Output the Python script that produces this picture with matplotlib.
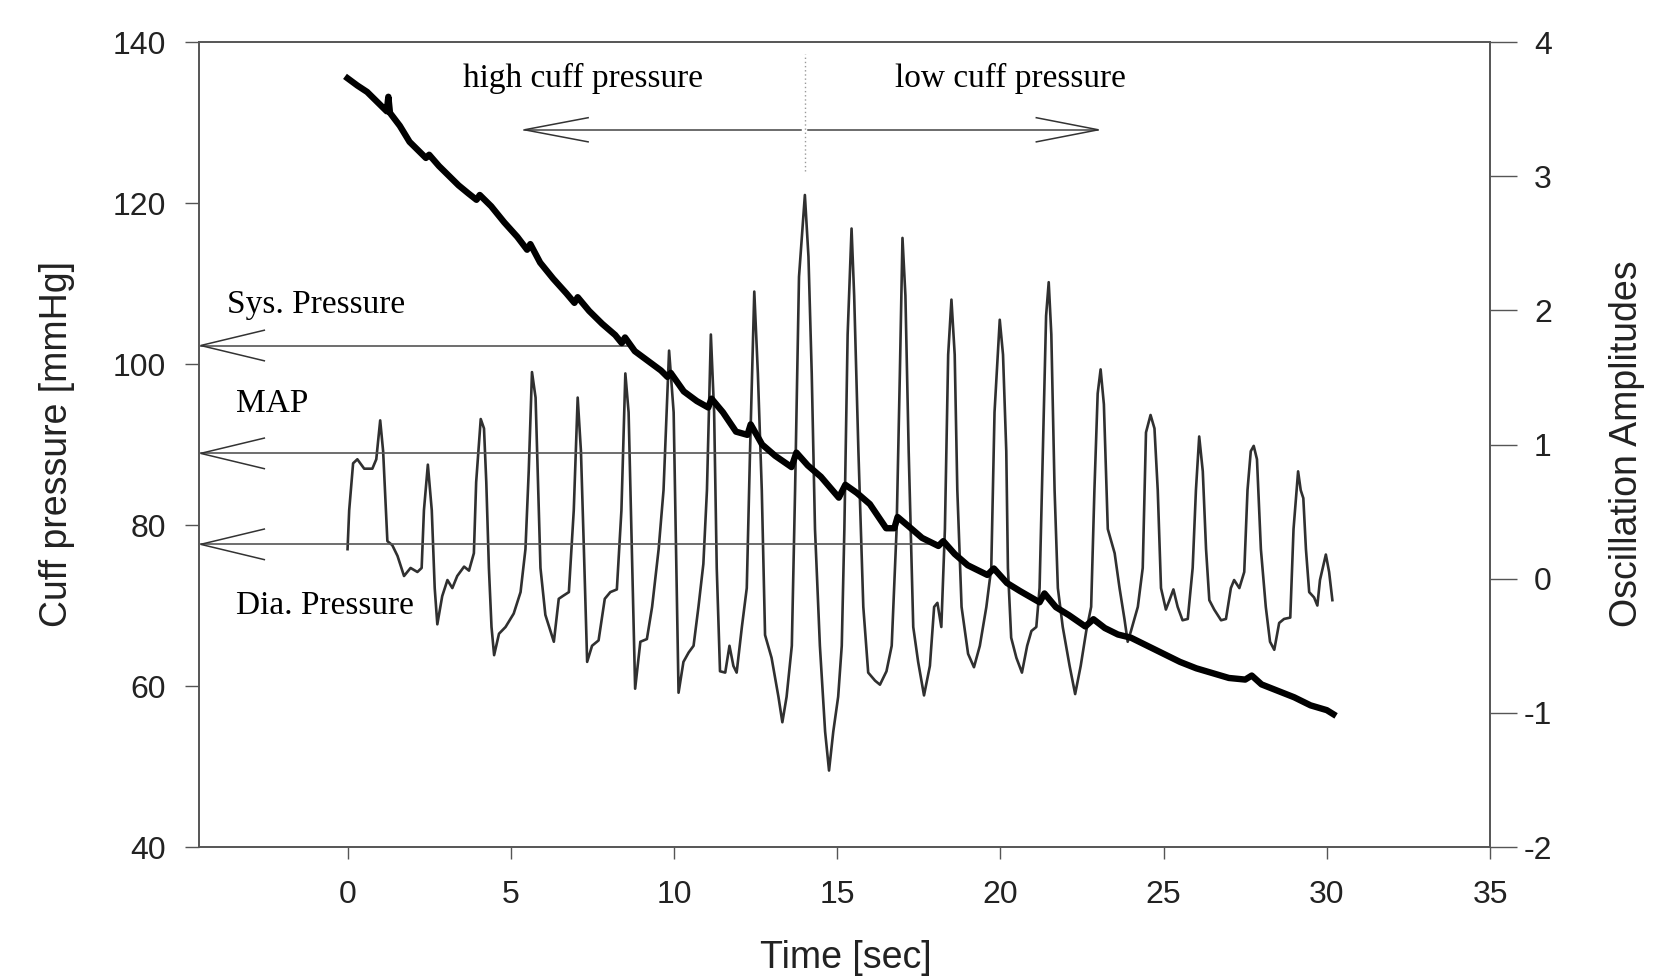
"""Oscillometric cuff deflation: cuff pressure and oscillation amplitudes."""

import matplotlib
matplotlib.use("Agg")
import matplotlib.pyplot as plt

plt.rcParams["axes.unicode_minus"] = False

# cuff pressure [mmHg] (thick line, left axis)
press_t = [0.0, 0.3, 0.6, 0.9, 1.05, 1.2, 1.25, 1.3, 1.6, 1.9, 2.2, 2.4, 2.5, 2.8,
           3.1, 3.4, 3.7, 3.95, 4.05, 4.4, 4.8, 5.2, 5.5, 5.6, 5.9, 6.3, 6.7, 6.95,
           7.05, 7.4, 7.8, 8.2, 8.4, 8.5, 8.8, 9.2, 9.6, 9.8, 9.9, 10.3, 10.7, 11.05,
           11.15, 11.5, 11.9, 12.25, 12.35, 12.7, 13.1, 13.6, 13.75, 14.1, 14.5,
           15.05, 15.25, 15.6, 16.0, 16.5, 16.75, 16.85, 17.2, 17.6, 18.1, 18.25,
           18.6, 19.0, 19.6, 19.8, 20.2, 20.6, 21.2, 21.35, 21.7, 22.1, 22.6, 22.85,
           23.2, 23.6, 24.0, 24.5, 25.0, 25.5, 26.0, 26.5, 27.0, 27.5, 27.7, 28.0,
           28.5, 29.0, 29.5, 30.0, 30.2]
press_mmhg = [135.5, 134.6, 133.8, 132.6, 132.0, 131.4, 133.2, 131.2, 129.6, 127.6,
              126.4, 125.6, 126.0, 124.6, 123.4, 122.2, 121.2, 120.4, 121.0, 119.6,
              117.6, 115.8, 114.2, 114.9, 112.6, 110.6, 108.8, 107.6, 108.3, 106.6,
              105.0, 103.6, 102.6, 103.3, 101.6, 100.4, 99.2, 98.4, 98.9, 96.6, 95.4,
              94.6, 95.7, 94.0, 91.6, 91.2, 92.5, 90.0, 88.6, 87.2, 89.0, 87.4, 86.0,
              83.4, 85.0, 84.0, 82.6, 79.6, 79.6, 81.0, 79.8, 78.4, 77.4, 78.0, 76.4,
              75.0, 73.8, 74.6, 72.8, 71.8, 70.4, 71.5, 69.8, 68.8, 67.4, 68.3, 67.2,
              66.4, 66.0, 65.0, 64.0, 63.0, 62.2, 61.6, 61.0, 60.8, 61.3, 60.2, 59.4,
              58.6, 57.6, 57.0, 56.5]

# oscillation signal (thin line, right axis)
osc_t = [0.00, 0.05, 0.17, 0.30, 0.51, 0.76, 0.88, 1.00, 1.09, 1.22, 1.37, 1.53, 1.73,
         1.93, 2.14, 2.27, 2.34, 2.46, 2.58, 2.67, 2.75, 2.90, 3.06, 3.21, 3.36, 3.57,
         3.72, 3.87, 3.94, 4.08, 4.18, 4.25, 4.33, 4.41, 4.49, 4.64, 4.84, 5.09, 5.30,
         5.45, 5.55, 5.65, 5.76, 5.84, 5.91, 6.06, 6.32, 6.47, 6.59, 6.78, 6.93, 7.05,
         7.15, 7.24, 7.34, 7.49, 7.69, 7.88, 8.05, 8.25, 8.39, 8.51, 8.61, 8.71, 8.81,
         8.97, 9.17, 9.33, 9.53, 9.68, 9.85, 9.99, 10.14, 10.29, 10.45, 10.60, 10.75,
         10.90, 11.01, 11.13, 11.23, 11.31, 11.41, 11.57, 11.70, 11.82, 11.92, 12.08,
         12.23, 12.33, 12.46, 12.57, 12.69, 12.79, 12.99, 13.20, 13.32, 13.45, 13.61,
         13.71, 13.83, 14.01, 14.12, 14.22, 14.32, 14.47, 14.63, 14.75, 14.88, 15.03,
         15.14, 15.22, 15.32, 15.44, 15.52, 15.65, 15.80, 15.95, 16.16, 16.31, 16.51,
         16.67, 16.82, 16.92, 17.00, 17.09, 17.19, 17.33, 17.48, 17.66, 17.84, 17.97,
         18.07, 18.19, 18.30, 18.40, 18.50, 18.60, 18.68, 18.81, 19.01, 19.19, 19.37,
         19.57, 19.72, 19.82, 19.98, 20.08, 20.18, 20.23, 20.33, 20.49, 20.66, 20.82,
         20.95, 21.10, 21.20, 21.30, 21.40, 21.48, 21.56, 21.66, 21.76, 21.91, 22.12,
         22.29, 22.46, 22.63, 22.78, 22.88, 22.98, 23.07, 23.17, 23.29, 23.50, 23.65,
         23.80, 23.90, 24.00, 24.21, 24.36, 24.46, 24.60, 24.72, 24.82, 24.92, 25.07,
         25.18, 25.30, 25.43, 25.58, 25.74, 25.89, 25.99, 26.09, 26.20, 26.30, 26.40,
         26.55, 26.76, 26.91, 27.06, 27.16, 27.32, 27.47, 27.57, 27.67, 27.76, 27.86,
         27.98, 28.13, 28.26, 28.39, 28.54, 28.69, 28.88, 28.98, 29.12, 29.20, 29.28,
         29.36, 29.46, 29.61, 29.71, 29.79, 29.97, 30.07, 30.17]
osc_amp = [0.22, 0.51, 0.86, 0.89, 0.82, 0.82, 0.89, 1.18, 0.95, 0.28, 0.25, 0.17, 0.02,
           0.08, 0.05, 0.08, 0.51, 0.85, 0.51, -0.07, -0.34, -0.13, -0.01, -0.07, 0.02,
           0.09, 0.06, 0.19, 0.72, 1.19, 1.12, 0.72, 0.08, -0.36, -0.57, -0.41, -0.36,
           -0.26, -0.10, 0.22, 0.80, 1.54, 1.35, 0.66, 0.08, -0.27, -0.47, -0.15, -0.13,
           -0.10, 0.51, 1.35, 0.95, 0.22, -0.62, -0.50, -0.46, -0.15, -0.10, -0.08, 0.51,
           1.53, 1.24, 0.22, -0.82, -0.47, -0.45, -0.21, 0.22, 0.66, 1.70, 1.24, -0.85,
           -0.62, -0.55, -0.50, -0.21, 0.11, 0.66, 1.82, 1.24, 0.08, -0.69, -0.70, -0.50,
           -0.65, -0.70, -0.36, -0.07, 0.95, 2.14, 1.53, 0.66, -0.42, -0.59, -0.88, -1.07,
           -0.88, -0.50, 0.66, 2.25, 2.86, 2.40, 1.53, 0.37, -0.50, -1.14, -1.43, -1.14,
           -0.88, -0.50, 0.37, 1.82, 2.61, 2.11, 0.95, -0.21, -0.70, -0.76, -0.79, -0.69,
           -0.50, 0.37, 1.53, 2.54, 2.11, 0.95, -0.36, -0.62, -0.87, -0.65, -0.21, -0.18,
           -0.36, 0.37, 1.67, 2.08, 1.67, 0.66, -0.21, -0.56, -0.66, -0.50, -0.21, 0.08,
           1.24, 1.93, 1.67, 0.95, 0.08, -0.44, -0.59, -0.70, -0.50, -0.39, -0.36, -0.07,
           0.95, 1.96, 2.21, 1.82, 0.66, -0.07, -0.36, -0.65, -0.86, -0.65, -0.39, -0.21,
           0.66, 1.38, 1.56, 1.30, 0.37, 0.19, -0.07, -0.30, -0.47, -0.39, -0.21, 0.08,
           1.09, 1.22, 1.12, 0.66, -0.07, -0.23, -0.16, -0.08, -0.21, -0.31, -0.30, 0.08,
           0.66, 1.06, 0.80, 0.22, -0.16, -0.23, -0.31, -0.30, -0.07, -0.01, -0.07, 0.05,
           0.66, 0.95, 0.99, 0.89, 0.22, -0.21, -0.47, -0.53, -0.33, -0.30, -0.29, 0.37,
           0.80, 0.66, 0.60, 0.22, -0.10, -0.14, -0.20, -0.01, 0.18, 0.05, -0.16]

level_names = ["Sys. Pressure", "MAP", "Dia. Pressure"]
level_mmhg = [102.3, 88.9, 77.6]
level_end_t = [8.7, 13.7, 17.9]

x_ticks = [0, 5, 10, 15, 20, 25, 30, 35]
left_ticks = [40, 60, 80, 100, 120, 140]
right_ticks = [-2, -1, 0, 1, 2, 3, 4]

SANS = "Liberation Sans"
SERIF = "Liberation Serif"
FRAME = "#555555"


def open_head(ax, tip, dx, dy):
    # two barbs of an open arrow head
    x, y = tip
    ax.plot([x + dx, x, x + dx], [y + dy, y, y - dy], color="#333333", lw=1.1,
            solid_joinstyle="miter", clip_on=False)


def main():
    fig = plt.figure(figsize=(16.81, 9.8), dpi=100)
    ax = fig.add_axes([0.1184, 0.1357, 0.7680, 0.8214])
    ax2 = ax.twinx()

    ax.set_xlim(-4.55, 35)
    ax.set_ylim(40, 140)
    ax2.set_ylim(-2, 4)
    ax.set_xticks(x_ticks)
    ax.set_yticks(left_ticks)
    ax2.set_yticks(right_ticks)

    ax2.plot(osc_t, osc_amp, color="#303030", lw=1.9)
    ax.plot(press_t, press_mmhg, color="black", lw=4.6, zorder=5)
    ax.set_zorder(ax2.get_zorder() + 1)
    ax.patch.set_visible(False)

    for name, level, t_end in zip(level_names, level_mmhg, level_end_t):
        ax.plot([-4.5, t_end], [level, level], color="#555555", lw=1.2)
        open_head(ax, (-4.5, level), 1.95, 1.9)
    ax.text(-3.68, 106.4, level_names[0], family=SERIF, fontsize=24, va="baseline")
    ax.text(-3.42, 94.0, level_names[1], family=SERIF, fontsize=24, va="baseline")
    ax.text(-3.42, 69.0, level_names[2], family=SERIF, fontsize=24, va="baseline")

    # high / low cuff pressure arrow
    ax.plot([5.42, 13.9], [129.1, 129.1], color="#444444", lw=1.1)
    ax.plot([14.1, 23.0], [129.1, 129.1], color="#444444", lw=1.1)
    open_head(ax, (5.42, 129.1), 1.95, 1.5)
    open_head(ax, (23.0, 129.1), -1.9, 1.5)
    ax.plot([14.0, 14.0], [124.0, 138.5], color="#999999", lw=1.0, ls=(0, (1, 2)))
    ax.text(7.22, 134.4, "high cuff pressure", family=SERIF, fontsize=24,
            ha="center", va="baseline")
    ax.text(20.3, 134.4, "low cuff pressure", family=SERIF, fontsize=24,
            ha="center", va="baseline")

    for a in (ax, ax2):
        for sp in a.spines.values():
            sp.set_color(FRAME)
            sp.set_linewidth(1.2)
    ax.tick_params(axis="x", direction="out", length=8.5, width=1.0, pad=15,
                   color=FRAME, labelsize=23, labelcolor="#222222")
    ax.tick_params(axis="y", direction="out", length=10, width=1.0, pad=14,
                   color=FRAME, labelsize=23, labelcolor="#222222")
    ax2.tick_params(axis="y", direction="out", length=19.5, width=1.0, pad=25,
                    color=FRAME, labelsize=23, labelcolor="#222222")
    for lbl in ax.get_xticklabels() + ax.get_yticklabels() + ax2.get_yticklabels():
        lbl.set_family(SANS)
    plt.setp(ax2.get_yticklabels(), ha="right")

    fig.text(57 / 1681, 1 - 444 / 980, "Cuff pressure [mmHg]", family=SANS,
             fontsize=27, rotation=90, ha="center", va="center", color="#222222")
    fig.text(1627 / 1681, 1 - 444 / 980, "Oscillation Amplitudes", family=SANS,
             fontsize=27, rotation=90, ha="center", va="center", color="#222222")
    fig.text(846 / 1681, 1 - 958 / 980, "Time [sec]", family=SANS,
             fontsize=27, ha="center", va="center", color="#222222")

    fig.savefig("out.png", dpi=100)
    plt.close(fig)


if __name__ == "__main__":
    main()
